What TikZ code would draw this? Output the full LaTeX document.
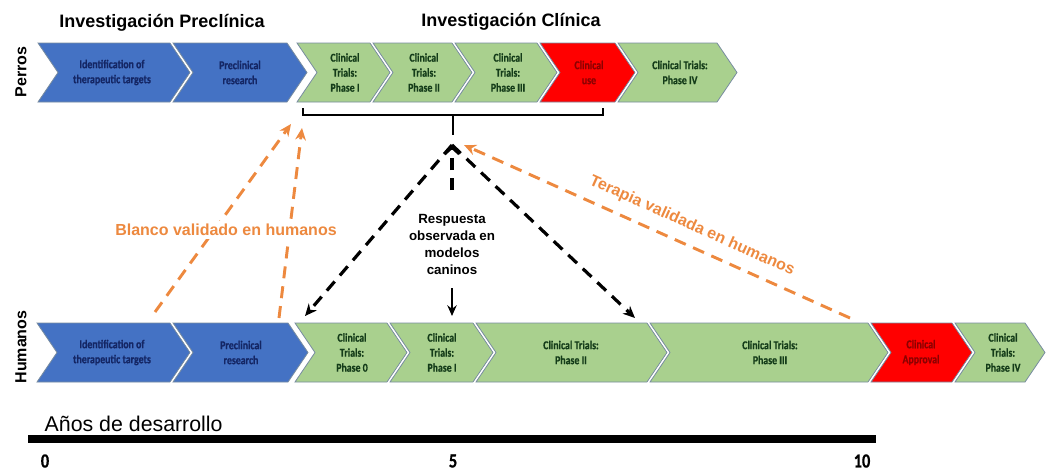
\documentclass[tikz,border=0pt]{standalone}
\usepackage{fontspec}
\setmainfont{Liberation Sans}
\newfontfamily\chevfont[FakeStretch=0.82, BoldFont={Carlito Bold}, BoldFeatures={FakeStretch=0.82, FakeBold=0.6}]{Carlito}
\usetikzlibrary{arrows.meta}

\definecolor{chevblue}{RGB}{68,114,196}
\definecolor{chevgreen}{RGB}{169,208,142}
\definecolor{chevred}{RGB}{255,0,0}
\definecolor{chevline}{RGB}{120,140,160}
\definecolor{txtblue}{RGB}{20,38,100}
\definecolor{txtgreen}{RGB}{20,60,25}
\definecolor{txtred}{RGB}{140,0,0}
\definecolor{orangearrow}{RGB}{237,137,63}

\begin{document}
\begin{tikzpicture}[x=0.75pt, y=-0.75pt,
	chev/.style={draw=chevline, line width=0.6pt, preaction={draw=white, line width=2.5pt}},
	chevtext/.style={font=\chevfont\bfseries\fontsize{9}{11.25}\selectfont, align=center, inner sep=1pt},
	heading/.style={font=\bfseries\fontsize{13.5}{16}\selectfont},
	rowlabel/.style={font=\bfseries\fontsize{12}{14}\selectfont, rotate=90},
	numlabel/.style={font=\chevfont\bfseries\fontsize{15}{17}\selectfont, inner sep=0.5pt},
	blackdash/.style={line width=2.4pt, dash pattern=on 9pt off 6pt, -{Stealth[length=9pt,width=8pt]}},
	orangedash/.style={draw=orangearrow, line width=2.2pt, dash pattern=on 9pt off 6pt, -{Stealth[length=9pt,width=8pt]}},
	orangelabel/.style={text=orangearrow, font=\bfseries\fontsize{12}{14}\selectfont}]

	\useasboundingbox (0,0) rectangle (1046,472);

	\node[heading] (preHead) at (162,23) {Investigación Preclínica};
	\node[heading] (cliHead) at (511,22) {Investigación Clínica};
	\node[rowlabel] (perros) at (21,72) {Perros};
	\node[rowlabel] (humanos) at (21,347) {Humanos};

	% dogs
	\filldraw[chev, fill=chevblue] (38,43) -- (170,43) -- (190,72.5) -- (170,102) -- (38,102) -- (58,72.5) -- cycle;
	\node[chevtext, text=txtblue] (tIdent) at (112,72.5) {Identification of\\therapeutic targets};
	\filldraw[chev, fill=chevblue] (173,43) -- (287,43) -- (307,72.5) -- (287,102) -- (173,102) -- (193,72.5) -- cycle;
	\node[chevtext, text=txtblue] (tPrec) at (240,72.5) {Preclinical\\research};
	\filldraw[chev, fill=chevgreen] (297,43) -- (370,43) -- (390,72.5) -- (370,102) -- (297,102) -- (317,72.5) -- cycle;
	\node[chevtext, text=txtgreen] (tPhaseI) at (345,72.5) {Clinical\\Trials:\\Phase I};
	\filldraw[chev, fill=chevgreen] (373,43) -- (452,43) -- (472,72.5) -- (452,102) -- (373,102) -- (393,72.5) -- cycle;
	\node[chevtext, text=txtgreen] (tPhaseII) at (424,72.5) {Clinical\\Trials:\\Phase II};
	\filldraw[chev, fill=chevgreen] (455,43) -- (537,43) -- (557,72.5) -- (537,102) -- (455,102) -- (475,72.5) -- cycle;
	\node[chevtext, text=txtgreen] (tPhaseIII) at (508,72.5) {Clinical\\Trials:\\Phase III};
	\filldraw[chev, fill=chevred] (540,43) -- (615,43) -- (635,72.5) -- (615,102) -- (540,102) -- (560,72.5) -- cycle;
	\node[chevtext, text=txtred] (tUse) at (589,72.5) {Clinical\\use};
	\filldraw[chev, fill=chevgreen] (618,43) -- (717,43) -- (737,72.5) -- (717,102) -- (618,102) -- (638,72.5) -- cycle;
	\node[chevtext, text=txtgreen] (tPhaseIV) at (680,72.5) {Clinical Trials:\\Phase IV};

	% humans
	\filldraw[chev, fill=chevblue] (37,323) -- (170,323) -- (190,352.5) -- (170,382) -- (37,382) -- (57,352.5) -- cycle;
	\node[chevtext, text=txtblue] (hIdent) at (112,352.5) {Identification of\\therapeutic targets};
	\filldraw[chev, fill=chevblue] (173,323) -- (288,323) -- (308,352.5) -- (288,382) -- (173,382) -- (193,352.5) -- cycle;
	\node[chevtext, text=txtblue] (hPrec) at (241,352.5) {Preclinical\\research};
	\filldraw[chev, fill=chevgreen] (295,323) -- (387,323) -- (407,352.5) -- (387,382) -- (295,382) -- (315,352.5) -- cycle;
	\node[chevtext, text=txtgreen] (hPhase0) at (352,352.5) {Clinical\\Trials:\\Phase 0};
	\filldraw[chev, fill=chevgreen] (390,323) -- (473,323) -- (493,352.5) -- (473,382) -- (390,382) -- (410,352.5) -- cycle;
	\node[chevtext, text=txtgreen] (hPhaseI) at (442,352.5) {Clinical\\Trials:\\Phase I};
	\filldraw[chev, fill=chevgreen] (476,323) -- (647,323) -- (667,352.5) -- (647,382) -- (476,382) -- (496,352.5) -- cycle;
	\node[chevtext, text=txtgreen] (hPhaseII) at (571,352.5) {Clinical Trials:\\Phase II};
	\filldraw[chev, fill=chevgreen] (650,323) -- (868,323) -- (888,352.5) -- (868,382) -- (650,382) -- (670,352.5) -- cycle;
	\node[chevtext, text=txtgreen] (hPhaseIII) at (770,352.5) {Clinical Trials:\\Phase III};
	\filldraw[chev, fill=chevred] (871,323) -- (952,323) -- (972,352.5) -- (952,382) -- (871,382) -- (891,352.5) -- cycle;
	\node[chevtext, text=txtred] (hApp) at (921,352.5) {Clinical\\Approval};
	\filldraw[chev, fill=chevgreen] (955,323) -- (1025,323) -- (1045,352.5) -- (1025,382) -- (955,382) -- (975,352.5) -- cycle;
	\node[chevtext, text=txtgreen] (hPhaseIV) at (1003,352.5) {Clinical\\Trials:\\Phase IV};

	% bracket over the dog trials
	\draw[line width=1.5pt] (303,108) -- (303,115) -- (603,115) -- (603,108);
	\draw[line width=1.5pt] (453,115) -- (453,135);

	\coordinate (apex) at (452,145);
	\coordinate (leftEnd) at (305,316);
	\coordinate (rightEnd) at (635,318);
	\coordinate (respTop) at (452,190);
	\coordinate (respBot) at (452,288);
	\coordinate (midEnd) at (452,316);

	\node[font=\bfseries\fontsize{10}{12.75}\selectfont, align=center] (resp) at (452,244) {Respuesta\\observada en\\modelos\\caninos};
	\draw[blackdash] (apex) -- (leftEnd);
	\draw[blackdash] (apex) -- (rightEnd);
	\draw[blackdash, -{Straight Barb[length=5pt,width=11pt]}] (respTop) -- (apex);
	\draw[line width=1.5pt, -{Stealth[length=8pt,width=7pt]}] (respBot) -- (midEnd);

	% validated in humans
	\coordinate (oStartA) at (155,312);
	\coordinate (oEndA) at (291,124);
	\coordinate (oStartB) at (279,318);
	\coordinate (oEndB) at (302,128);
	\coordinate (oStartC) at (850,318);
	\coordinate (oEndC) at (464,145);
	\draw[orangedash] (oStartA) -- (oEndA);
	\draw[orangedash] (oStartB) -- (oEndB);
	\draw[orangedash] (oStartC) -- (oEndC);
	\node[orangelabel, fill=white, inner sep=2pt] (blanco) at (226,230) {Blanco validado en humanos};
	\node[orangelabel, rotate=-24.2] (terapia) at (692,226) {Terapia validada en humanos};

	% years
	\node[font=\fontsize{16}{19}\selectfont, anchor=base west] (years) at (40,431) {Años de desarrollo};
	\draw[line width=6pt] (28,439) -- (876,439);
	\node[numlabel] (yearA) at (45,461) {0};
	\node[numlabel] (yearB) at (453,461) {5};
	\node[numlabel] (yearC) at (862,461) {10};

\end{tikzpicture}
\end{document}
